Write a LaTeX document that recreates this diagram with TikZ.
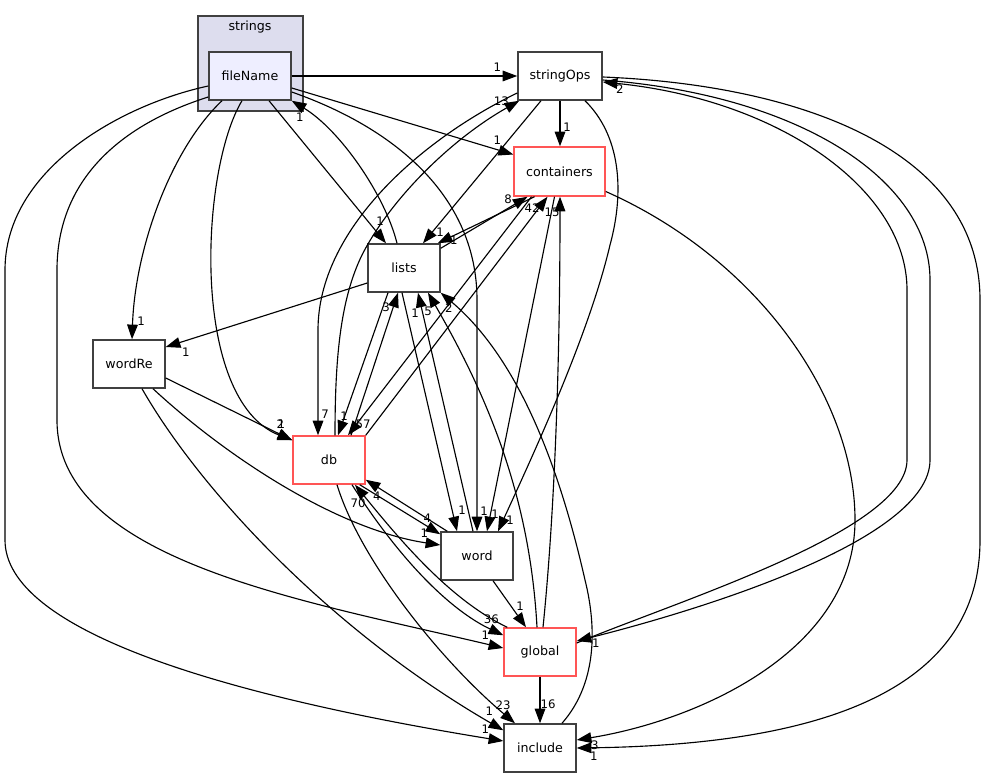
\documentclass[tikz,border=0pt]{standalone}
\usepackage{fontspec}
\setmainfont{DejaVu Sans}
\usetikzlibrary{arrows.meta, positioning}

\definecolor{dirborder}{HTML}{404040}
\definecolor{dirred}{HTML}{FF5555}
\definecolor{clusterfill}{HTML}{DDDDEE}
\definecolor{dirfill}{HTML}{EEEEFF}

\tikzset{
  dir/.style={draw=dirborder, line width=1.1pt, fill=white, minimum width=54pt,
    minimum height=36pt, inner sep=0pt, font=\fontsize{9.5}{11}\selectfont},
  dirtrunc/.style={dir, draw=dirred},
  dep/.style={-{Triangle[length=11pt,width=8pt]}, line width=0.85pt},
  cnt/.style={font=\fontsize{8.8}{10}\selectfont, inner sep=0pt},
}

\begin{document}
\begin{tikzpicture}[x=0.75pt, y=-0.75pt]
    \useasboundingbox (0,0) rectangle (987,777);
    % cluster
    \draw[dirborder, line width=1.1pt, fill=clusterfill] (198,16) rectangle (303,111);
    \node[font=\fontsize{9.5}{11}\selectfont] (strings) at (250,27) {strings};
    % directories
    \node[dir, fill=dirfill, minimum width=61.5pt] (fileName) at (250,76) {fileName};
    \node[dir, minimum width=63pt] (stringOps) at (560,76) {stringOps};
    \node[dirtrunc, minimum width=68.25pt, minimum height=36.75pt] (containers) at (559.5,171.5) {containers};
    \node[dir] (lists) at (404,268) {lists};
    \node[dir] (wordRe) at (129,364) {wordRe};
    \node[dirtrunc] (db) at (329,460) {db};
    \node[dir] (word) at (477,556) {word};
    \node[dirtrunc] (global) at (540,652) {global};
    \node[dir] (include) at (540,748) {include};
    %
    % fileName
    \draw[dep] (fileName.east) -- (stringOps.west) node[cnt, shift={(-20,-9)}] {1};
    \draw[dep] ([shift={(0,12)}]fileName.east) -- ([shift={(0,-17)}]containers.west) node[cnt, shift={(-16,-14)}] {1};
    \draw[dep] ([shift={(19,0)}]fileName.south) -- ([shift={(-18,0)}]lists.north) node[cnt, shift={(-6,-22)}] {1};
    \draw[dep] ([shift={(0,16)}]fileName.east) .. controls (400,130) and (477,200) .. (477,300) -- (word.north) node[cnt, shift={(7,-20)}] {1};
    \draw[dep] ([shift={(-28,0)}]fileName.south) .. controls (170,150) and (135,250) .. ([shift={(3,0)}]wordRe.north) node[cnt, shift={(9,-18)}] {1};
    \draw[dep] ([shift={(-8,0)}]fileName.south) .. controls (200,170) and (190,400) .. ([shift={(0,5)}]db.north west) node[cnt, shift={(-12,-16)}] {2};
    \draw[dep] ([shift={(0,21)}]fileName.west) .. controls (120,125) and (57,180) .. (57,270) -- (57,420) .. controls (57,560) and (300,600) .. ([shift={(0,-4)}]global.west) node[cnt, shift={(-18,-13)}] {1};
    \draw[dep] ([shift={(0,10)}]fileName.west) .. controls (120,105) and (5,170) .. (5,270) -- (5,540) .. controls (5,630) and (220,695) .. ([shift={(0,-7)}]include.west) node[cnt, shift={(-18,-12)}] {1};
    %
    % stringOps
    \draw[dep] (stringOps.south) -- (stringOps.south |- containers.north) node[cnt, shift={(7,-19)}] {1};
    \draw[dep] ([shift={(-19,0)}]stringOps.south) -- ([shift={(19,0)}]lists.north) node[cnt, shift={(17,-11)}] {1};
    \draw[dep] ([shift={(25,0)}]stringOps.south) .. controls (620,135) and (625,190) .. (610,245) .. controls (590,330) and (540,440) .. ([shift={(21,0)}]word.north) node[cnt, shift={(12,-11)}] {1};
    \draw[dep] ([shift={(0,17)}]stringOps.west) .. controls (420,140) and (318,230) .. (318,330) -- ([shift={(-11,0)}]db.north) node[cnt, shift={(7,-21)}] {7};
    \draw[dep] ([shift={(0,1)}]stringOps.east) .. controls (800,85) and (980,150) .. (980,300) -- (980,540) .. controls (980,700) and (800,745) .. (include.east) node[cnt, shift={(17,8)}] {1};
    \draw[dep] ([shift={(0,4)}]stringOps.east) .. controls (800,95) and (930,180) .. (930,280) -- (930,460) .. controls (930,540) and (700,610) .. ([shift={(0,-11)}]global.east) node[cnt, shift={(19,2)}] {1};
    %
    % containers
    \draw[dep] ([shift={(-25,0)}]containers.south) -- ([shift={(-3,0)}]lists.north east) node[cnt, shift={(16,-3)}] {1};
    \draw[dep] ([shift={(-28,0)}]containers.south) -- ([shift={(19,0)}]db.north) node[cnt, shift={(15,-11)}] {57};
    \draw[dep] ([shift={(-5,0)}]containers.south) -- ([shift={(10,0)}]word.north) node[cnt, shift={(8,-17)}] {1};
    \draw[dep] ([shift={(0,20)}]containers.east) .. controls (760,260) and (855,400) .. (855,520) .. controls (855,650) and (700,720) .. ([shift={(0,-8)}]include.east) node[cnt, shift={(18,5)}] {3};
    %
    % lists
    \draw[dep] ([shift={(-7,0)}]lists.north) .. controls (385,195) and (340,130) .. (fileName.south east) node[cnt, shift={(8,16)}] {1};
    \draw[dep] ([shift={(0,5)}]lists.north east) -- ([shift={(-32,0)}]containers.south) node[cnt, shift={(-19.5,2)}] {8};
    \draw[dep] ([shift={(-16,0)}]lists.south) -- ([shift={(9,0)}]db.north) node[cnt, shift={(6,-19)}] {1};
    \draw[dep] ([shift={(-2,0)}]lists.south) -- ([shift={(-20,0)}]word.north) node[cnt, shift={(5,-21)}] {1};
    \draw[dep] ([shift={(0,15)}]lists.west) -- ([shift={(0,-17)}]wordRe.east) node[cnt, shift={(20,5)}] {1};
    %
    % wordRe
    \draw[dep] ([shift={(0,14)}]wordRe.east) -- ([shift={(0,5)}]db.north west) node[cnt, shift={(-11,-16)}] {1};
    \draw[dep] ([shift={(24,0)}]wordRe.south) .. controls (230,460) and (340,530) .. ([shift={(0,-11)}]word.west) node[cnt, shift={(-16,-12)}] {1};
    \draw[dep] ([shift={(13,0)}]wordRe.south) .. controls (200,490) and (330,630) .. ([shift={(0,7)}]include.north west) node[cnt, shift={(-14,-19)}] {1};
    %
    % db
    \draw[dep] ([shift={(6,0)}]db.north) .. controls (335,360) and (340,300) .. (362,255) .. controls (390,200) and (450,140) .. ([shift={(2,0)}]stringOps.south west) node[cnt, shift={(-18,0)}] {13};
    \draw[dep] (db.north east) -- ([shift={(-12,0)}]containers.south) node[cnt, shift={(-15.5,11)}] {42};
    \draw[dep] ([shift={(22,0)}]db.north) -- ([shift={(-6,0)}]lists.south) node[cnt, shift={(-12,14)}] {3};
    \draw[dep] ([shift={(-6,0)}]db.south east) -- ([shift={(0,3)}]word.north west) node[cnt, shift={(-13,-16)}] {4};
    \draw[dep] ([shift={(23,0)}]db.south) .. controls (400,560) and (450,610) .. ([shift={(0,8)}]global.north west) node[cnt, shift={(-12,-16)}] {36};
    \draw[dep] ([shift={(8,0)}]db.south) .. controls (360,560) and (440,660) .. ([shift={(-25,0)}]include.north) node[cnt, shift={(-12,-18)}] {23};
    %
    % word
    \draw[dep] ([shift={(-4,0)}]word.north) -- ([shift={(14,0)}]lists.south) node[cnt, shift={(-3,20)}] {1};
    \draw[dep] ([shift={(7,0)}]word.north west) -- ([shift={(0,-5)}]db.south east) node[cnt, shift={(11,16)}] {4};
    \draw[dep] ([shift={(16,0)}]word.south) -- ([shift={(-14,0)}]global.north) node[cnt, shift={(-6,-21)}] {1};
    %
    % global
    \draw[dep] ([shift={(-3,0)}]global.north) .. controls (530,500) and (490,400) .. ([shift={(24,0)}]lists.south) node[cnt, shift={(0,19)}] {5};
    \draw[dep] ([shift={(3,0)}]global.north) .. controls (552,540) and (560,400) .. (stringOps.south |- containers.south) node[cnt, shift={(-8,16)}] {15};
    \draw[dep] ([shift={(0,-9)}]global.east) .. controls (680,600) and (907,530) .. (907,460) -- (907,290) .. controls (907,190) and (780,100) .. ([shift={(0,6)}]stringOps.east) node[cnt, shift={(17,7)}] {2};
    \draw[dep] ([shift={(4,0)}]global.north west) .. controls (450,600) and (400,540) .. ([shift={(26,0)}]db.south) node[cnt, shift={(3,18)}] {70};
    \draw[dep] (global.south) -- (include.north) node[cnt, shift={(8,-19)}] {16};
    %
    % include
    \draw[dep] ([shift={(22,0)}]include.north) .. controls (600,680) and (595,620) .. (585,580) .. controls (560,470) and (520,360) .. (lists.south east) node[cnt, shift={(8,15)}] {2};
\end{tikzpicture}
\end{document}
